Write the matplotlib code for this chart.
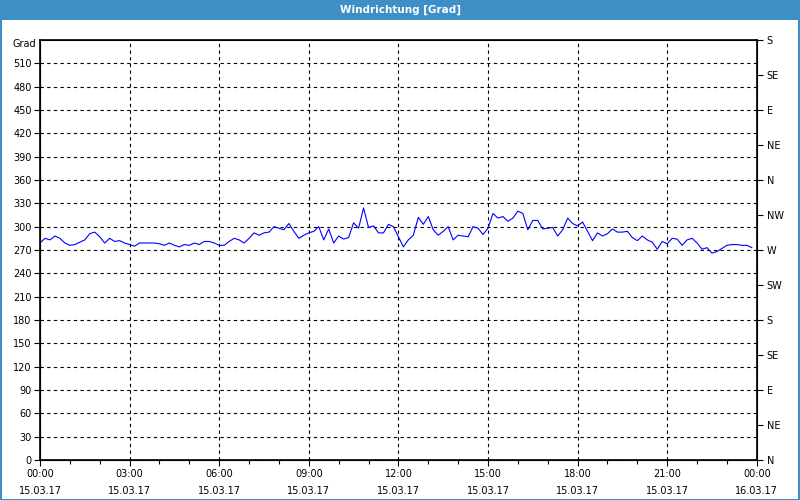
import numpy as np
import matplotlib
matplotlib.use("Agg")
import matplotlib.pyplot as plt
from matplotlib.patches import Rectangle

# wind direction, 10-minute values from 00:00 to 23:50
wind_dir = [
    279, 285, 283, 288, 285, 279, 276, 277, 280, 283, 291, 293, 287, 279, 285, 281, 282, 279, 277, 275, 279, 279, 279, 279, 278,
    276, 279, 276, 274, 277, 276, 279, 277, 281, 281, 279, 276, 276, 281, 285, 283, 279, 285, 292, 289, 292, 293, 300, 298, 296,
    304, 294, 285, 289, 292, 294, 300, 283, 297, 279, 288, 284, 286, 305, 298, 324, 299, 301, 292, 292, 303, 300, 287, 274,
    283, 289, 312, 303, 313, 296, 289, 294, 300, 283, 289, 288, 287, 300, 298, 290, 298, 317, 311, 313, 307, 311, 320, 317,
    296, 308, 308, 297, 298, 299, 288, 296, 311, 304, 301, 306, 294, 282, 292, 288, 291, 297, 293, 293, 294, 286, 282, 288,
    283, 280, 271, 281, 278, 285, 284, 276, 283, 285, 279, 271, 273, 266, 268, 272, 276, 277, 277, 276, 276, 273,
]
hours = np.arange(len(wind_dir)) / 6.0

x_ticks = [0, 3, 6, 9, 12, 15, 18, 21, 24]
x_labels = ["00:00\n15.03.17", "03:00\n15.03.17", "06:00\n15.03.17", "09:00\n15.03.17",
            "12:00\n15.03.17", "15:00\n15.03.17", "18:00\n15.03.17", "21:00\n15.03.17",
            "00:00\n16.03.17"]
compass = ["N", "NE", "E", "SE", "S", "SW", "W", "NW", "N", "NE", "E", "SE", "S"]

fig = plt.figure(figsize=(8, 5), dpi=100)
fig.patch.set_facecolor("white")

# title bar + frame
fig.patches.append(Rectangle((0, 0.96), 1, 0.04, transform=fig.transFigure,
                             facecolor="#3d8fc6", edgecolor="none", zorder=0))
fig.patches.append(Rectangle((0.001, 0.001), 0.998, 0.998, transform=fig.transFigure,
                             facecolor="none", edgecolor="#3d8fc6", lw=1.5, zorder=1))
fig.text(0.5, 0.981, "Windrichtung [Grad]", color="white", fontsize=7.5,
         fontweight="bold", ha="center", va="center")

ax = fig.add_axes([0.05, 0.08, 0.896, 0.84])
ax.plot(hours, wind_dir, color="#0000ff", lw=0.8, zorder=3)

ax.set_xlim(0, 24)
ax.set_ylim(0, 540)
ax.set_yticks(np.arange(0, 511, 30))
ax.set_xticks(x_ticks)
ax.set_xticklabels(x_labels, linespacing=1.85)
ax.set_xticks(np.arange(0, 25, 1), minor=True)
ax.tick_params(axis="both", labelsize=7, length=4, width=0.8, color="black")
ax.tick_params(axis="x", which="minor", length=3, width=0.8)
ax.tick_params(axis="x", pad=2.5)
ax.tick_params(axis="y", pad=2)

ax.grid(True, which="major", color="black", lw=0.8, linestyle=(0, (3, 3)))
for s in ["left", "bottom", "top", "right"]:
    ax.spines[s].set_linewidth(1.2)

ax2 = ax.twinx()
ax2.set_ylim(0, 540)
ax2.set_yticks(np.arange(0, 541, 45))
ax2.set_yticklabels(compass)
ax2.tick_params(axis="y", labelsize=7, length=4, width=0.8, pad=3)

fig.text(0.03, 0.912, "Grad", fontsize=7, ha="center", va="center")

fig.savefig("out.png", dpi=100)
